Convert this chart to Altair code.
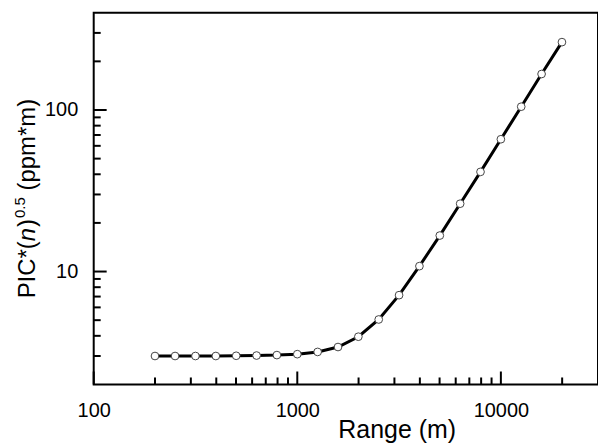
import altair as alt
import pandas as pd

FONT = "Liberation Sans"

# ---- data ----
range_m = [200, 251, 316, 398, 501, 631, 794, 1000, 1259, 1585, 1995,
           2512, 3162, 3981, 5012, 6310, 7943, 10000, 12589, 15849, 19953]
pic = [3.0, 3.0, 3.0, 3.0, 3.01, 3.02, 3.04, 3.08, 3.18, 3.41, 3.95,
       5.05, 7.14, 10.8, 16.7, 26.3, 41.4, 65.9, 104.8, 167, 263]

x_labels = [100, 1000, 10000]
x_minor = [200, 300, 400, 500, 600, 700, 800, 900,
           2000, 3000, 4000, 5000, 6000, 7000, 8000, 9000, 20000]
y_labels = [10, 100]
y_minor = [3, 4, 5, 6, 7, 8, 9, 20, 30, 40, 50, 60, 70, 80, 90, 200, 300]

W, H = 506, 373
xs = alt.Scale(type="log", domain=[100, 30000])
ys = alt.Scale(type="log", domain=[2, 400])

df = pd.DataFrame({"range": range_m, "pic": pic})

xaxis = alt.Axis(values=x_labels, format="d", ticks=False, domain=False,
                 grid=False, labelFlush=False, labelFont=FONT, labelFontSize=20,
                 labelColor="black", labelPadding=16,
                 title="Range (m)", titleFont=FONT, titleFontSize=25,
                 titleFontWeight="normal", titleColor="black", titleX=304, titleY=53,
                 titleBaseline="alphabetic", titleAlign="center")
yaxis = alt.Axis(values=y_labels, format="d", ticks=False, domain=False,
                 grid=False, labelFont=FONT, labelFontSize=20, labelColor="black",
                 labelPadding=16, title="")

X = alt.X("range:Q", scale=xs, axis=xaxis)
Y = alt.Y("pic:Q", scale=ys, axis=yaxis)

base = alt.Chart(df)
line = base.mark_line(color="black", strokeWidth=3).encode(x=X, y=Y)
points = base.mark_point(shape="circle", filled=True, fill="white", stroke="#444444",
                         strokeWidth=1, size=60, opacity=1).encode(x=X, y=Y)

def xticks(vals, length):
    return alt.Chart(pd.DataFrame({"range": vals})).mark_rule(
        color="black", strokeWidth=2).encode(
        x=X, y=alt.value(H), y2=alt.value(H - length))

def yticks(vals, length):
    return alt.Chart(pd.DataFrame({"pic": vals})).mark_rule(
        color="black", strokeWidth=2).encode(
        y=Y, x=alt.value(0), x2=alt.value(length))

# ---- rotated y-axis title built from pieces ----
EM = {"P": .667, "I": .278, "C": .722, "*": .389, "(": .333, ")": .333,
      "n": .556, "0": .556, ".": .278, "5": .556, " ": .278, "p": .556, "m": .833}

def tw(s, size):
    return sum(EM[c] for c in s) * size

FS, SFS = 24, 15
BX = -59
parts = [("PIC*(", FS, "normal", BX, 0),
         ("n", FS, "italic", BX, 0),
         (")", FS, "normal", BX, 1),
         ("0.5", SFS, "normal", BX - 10, 1),
         ("(ppm*m)", FS, "normal", BX, tw(" ", FS))]
total = sum(tw(p[0], p[1]) + p[4] for p in parts)
ypos = H / 2 + total / 2
title_layers = []
for text, size, style, xx, gap in parts:
    ypos -= gap
    title_layers.append(
        alt.Chart(pd.DataFrame({"t": [text]})).mark_text(
            angle=270, align="left", baseline="alphabetic", font=FONT,
            fontSize=size, fontStyle=style, color="black").encode(
            x=alt.value(xx), y=alt.value(ypos), text="t:N"))
    ypos -= tw(text, size)

chart = alt.layer(
    line,
    xticks(x_labels, 13), xticks(x_minor, 7),
    yticks(y_labels, 13), yticks(y_minor, 7),
    points, *title_layers
).properties(
    width=W, height=H,
    autosize=alt.AutoSizeParams(type="none"),
    padding={"left": 86, "top": 4, "right": 0, "bottom": 58},
).configure_view(stroke="black", strokeWidth=2)

chart.save("out.html", embed_options={"renderer": "svg", "actions": False})
